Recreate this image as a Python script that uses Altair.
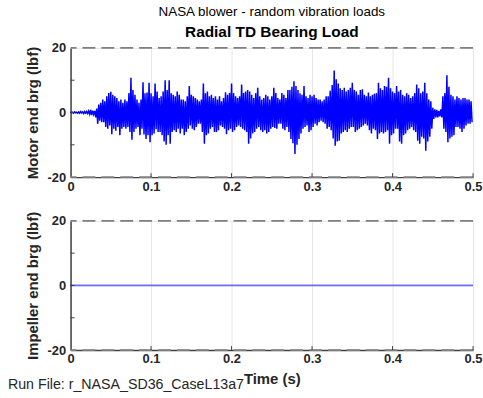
import altair as alt
import pandas as pd

# Upper / lower envelope of the motor-end bearing load, read every 0.0025 s (lbf)
upper = [
    0.2, 0.1, 0.2, 0.1,   0.2, 0.3, 0.2, 0.3,   0.3, 0.5, 0.8, 0.6,   0.5, 1.2, 2.5, 3.0,
    4.0, 3.5, 5.0, 6.0,   6.4, 5.5, 5.0, 4.5,   3.5, 4.0, 3.0, 4.0,   3.5, 6.0, 10.8, 7.0,
    5.5, 4.0, 3.0, 4.0,   9.4, 6.0, 6.2, 9.2,   6.0, 5.0, 9.0, 6.5,   4.5, 5.0, 6.5, 10.0,
    7.0, 10.0, 6.0, 5.5,  5.0, 6.5, 5.5, 4.0,   4.0, 3.5, 5.0, 8.2,   5.5, 5.0, 4.5, 4.0,
    3.5, 4.0, 9.0, 6.0,   6.5, 5.0, 5.5, 4.5,   5.0, 4.0, 5.0, 3.5,   4.5, 6.3, 5.5, 6.0,
    9.0, 6.0, 5.0, 4.5,   5.0, 8.7, 6.0, 6.5,   7.0, 6.5, 5.5, 4.5,   6.0, 7.7, 5.0, 4.0,
    4.5, 5.5, 5.0, 4.0,   5.0, 7.7, 6.0, 4.5,   4.0, 6.0, 5.5, 4.5,   7.0, 7.0, 8.0, 9.7,
    8.2, 7.0, 6.0, 5.5,   8.2, 5.0, 4.5, 5.5,   5.0, 5.5, 4.5, 4.0,   4.0, 3.5, 4.0, 5.0,
    5.0, 6.7, 8.5, 13.0,  10.3, 9.0, 7.5, 7.0,  7.7, 6.5, 7.0, 7.7,   9.2, 7.0, 6.5, 5.5,
    7.0, 7.2, 5.5, 5.0,   6.2, 5.0, 5.5, 5.8,   6.0, 9.2, 7.5, 7.0,   8.2, 8.0, 10.8, 7.5,
    6.5, 6.0, 8.2, 6.5,   7.0, 5.5, 5.0, 6.0,   5.5, 4.5, 5.0, 6.0,   8.7, 7.5, 6.0, 6.5,
    9.2, 6.0, 4.0, 3.5,   1.5, 1.0, 0.8, 0.5,   1.0, 5.0, 6.0, 11.5,  8.0, 5.5, 5.0, 4.0,
    5.0, 4.5, 4.0, 4.5,   4.5, 4.0, 4.0, 3.5,
]
lower = [
    -0.1, -0.2, -0.1, -0.2,  -0.2, -0.1, -0.3, -0.2,  -0.3, -0.5, -0.8, -0.6,  -1.5, -3.5, -2.5, -3.0,
    -3.0, -4.5, -5.0, -4.0,  -6.7, -5.0, -5.6, -4.5,  -7.0, -5.0, -4.5, -5.0,  -4.5, -6.0, -8.4, -6.0,
    -5.0, -4.5, -7.0, -5.0,  -6.8, -8.2, -7.0, -9.2,  -7.0, -6.5, -5.2, -6.0,  -6.0, -7.0, -9.0, -10.0,
    -7.0, -9.7, -6.0, -5.5,  -6.0, -5.0, -6.5, -5.0,  -7.0, -6.0, -5.0, -4.0,  -5.0, -5.5, -4.5, -3.5,
    -3.5, -6.0, -9.7, -7.0,  -6.5, -5.0, -4.5, -6.0,  -6.0, -5.5, -4.0, -4.5,  -5.0, -6.7, -5.5, -5.0,
    -6.0, -5.5, -4.5, -4.0,  -4.5, -5.0, -5.5, -6.0,  -9.7, -8.0, -6.5, -6.0,  -5.0, -4.5, -5.5, -6.0,
    -5.5, -6.5, -6.0, -5.0,  -4.5, -4.8, -5.0, -3.5,  -3.5, -5.0, -5.5, -4.5,  -6.0, -8.2, -9.5, -12.8,
    -10.0, -8.2, -6.5, -5.0, -4.5, -4.0, -6.0, -5.5,  -4.5, -3.5, -4.0, -3.0,  -2.5, -3.0, -3.5, -5.0,
    -4.5, -5.5, -8.0, -10.3, -9.0, -8.7, -6.5, -6.0,  -5.5, -6.0, -5.0, -4.5,  -4.5, -6.0, -5.5, -5.0,
    -4.5, -4.0, -3.5, -4.0,  -5.5, -6.5, -5.0, -5.5,  -8.2, -6.5, -6.0, -6.5,  -6.0, -5.5, -9.7, -7.0,
    -6.5, -5.0, -5.0, -9.0,  -9.7, -7.0, -6.5, -5.5,  -5.0, -4.5, -5.5, -6.0,  -8.7, -9.7, -7.5, -8.0,
    -11.8, -9.0, -7.5, -5.0, -2.0, -1.5, -1.5, -1.2,  -1.5, -5.0, -6.0, -9.2,  -8.0, -7.5, -7.0, -4.5,
    -4.5, -5.0, -6.0, -5.0,  -4.0, -3.5, -3.5, -3.0,
]
step = 0.0025

impeller_t = [0.0, 0.5]
impeller_v = [0.0, 0.0]

limits = [20, -20]
x_ticks = [0, 0.1, 0.2, 0.3, 0.4, 0.5]
y_ticks = [-20, -10, 0, 10, 20]

t, v = [], []
for i, (u, l) in enumerate(zip(upper, lower)):
    t += [i * step, i * step + step / 2]
    v += [u, l]
motor = pd.DataFrame({"t": t, "v": v})
imp = pd.DataFrame({"t": impeller_t, "v": impeller_v})
lim = pd.DataFrame({"y": limits})
xt = pd.DataFrame({"x": x_ticks[1:]})
yt = pd.DataFrame({"y": y_ticks[1:-1]})

W, H = 405, 130
FONT = "Liberation Sans"
xscale = alt.Scale(domain=[0, 0.5], nice=False, zero=False)
yscale = alt.Scale(domain=[-20, 20], nice=False)


def xaxis(title):
    return alt.Axis(values=x_ticks, format=".1~f", title=title, grid=True,
                    labelPadding=3, titlePadding=6)


def yaxis(title):
    return alt.Axis(values=y_ticks, labelExpr="'' + datum.value", title=title,
                    grid=True, labelPadding=5, titlePadding=6)


def panel(df, color, opacity, width, ytitle, xtitle, title=None):
    line = alt.Chart(df).mark_line(color=color, strokeWidth=width, opacity=opacity).encode(
        x=alt.X("t:Q", scale=xscale, axis=xaxis(xtitle)),
        y=alt.Y("v:Q", scale=yscale, axis=yaxis(ytitle)),
    )
    rules = alt.Chart(lim).mark_rule(color="#7f7f7f", strokeWidth=1.8, strokeDash=[13, 6]).encode(
        y=alt.Y("y:Q", scale=yscale)
    )
    xtick = alt.Chart(xt).mark_rule(color="#404040", strokeWidth=1).encode(
        x=alt.X("x:Q", scale=xscale), y=alt.value(H), y2=alt.value(H - 4)
    )
    ytick = alt.Chart(yt).mark_rule(color="#404040", strokeWidth=1).encode(
        y=alt.Y("y:Q", scale=yscale), x=alt.value(0), x2=alt.value(4)
    )
    layers = [rules, line, xtick, ytick]
    props = dict(width=W, height=H)
    if title is not None:
        props["title"] = title
    return alt.layer(*layers).properties(**props)


top = panel(
    motor, "#0000ff", 1.0, 1.5, "Motor end brg (lbf)", None,
    alt.TitleParams(
        "NASA blower - random vibration loads", subtitle="Radial TD Bearing Load",
        fontSize=13.5, fontWeight="normal", font=FONT, color="#000000",
        subtitleFontSize=15.5, subtitleFontWeight="bold", subtitleFont=FONT,
        subtitleColor="#000000", subtitlePadding=7, offset=1, anchor="middle",
    ),
)

runfile = alt.Chart(pd.DataFrame({"s": ["Run File: r_NASA_SD36_CaseL13a7"]})).mark_text(
    align="left", baseline="middle", fontSize=14.3, font=FONT, color="#262626"
).encode(x=alt.value(-63), y=alt.value(165), text="s:N")

bottom = alt.layer(
    panel(imp, "#0000ff", 0.55, 1.8, "Impeller end brg (lbf)", "Time (s)"), runfile
).properties(width=W, height=H)

chart = alt.vconcat(top, bottom, spacing=44, bounds="flush").properties(
    padding={"left": 8, "top": 4, "right": 0, "bottom": 0},
).configure_view(stroke=None).configure_axis(
    domainColor="#404040", domainWidth=1.5, ticks=False,
    gridColor="#e6e6e6", gridWidth=1,
    labelFont=FONT, labelFontSize=13, labelFontWeight="bold", labelColor="#262626",
    titleFont=FONT, titleFontSize=15, titleFontWeight="bold", titleColor="#262626",
).configure_axisX(labelFlush=False).configure_axisY(labelFlush=False)

chart.save("out.html", embed_options={"renderer": "svg", "actions": False})
